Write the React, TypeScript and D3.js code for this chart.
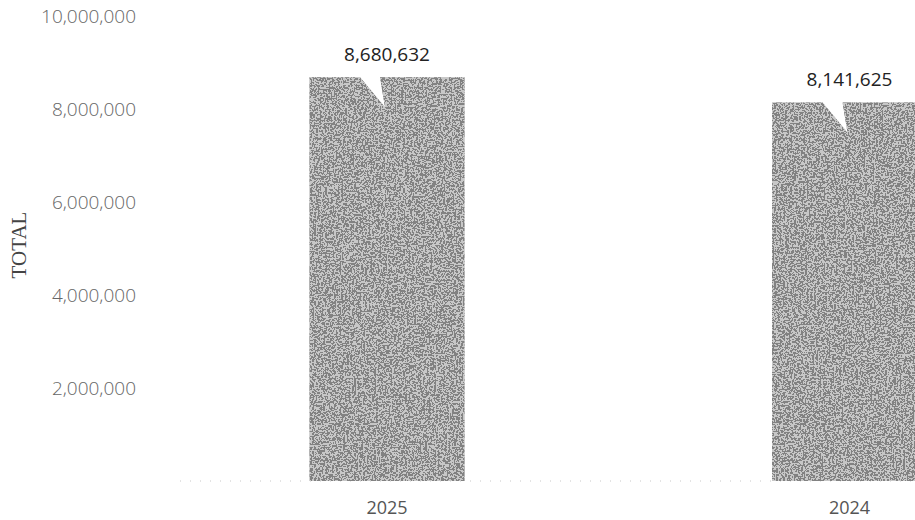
import React from "react";
import * as d3 from "d3";

const categories = ["2025", "2024"];
const totals = [8680632, 8141625];
const yTicks = [2000000, 4000000, 6000000, 8000000, 10000000];
const yAxisTitle = "TOTAL";

const W = 915;
const H = 520;

export default function App() {
  const y = d3.scaleLinear().domain([0, 10000000]).range([481, 16]);
  const x = d3
    .scaleBand<string>()
    .domain(categories)
    .range([155.75, 1080.75])
    .paddingInner(0.665)
    .paddingOuter(0.3325);
  const fmt = d3.format(",");
  const bw = x.bandwidth();

  return (
    <svg
      width={W}
      height={H}
      style={{ position: "absolute", left: 0, top: 0, background: "#fff" }}
    >
      <defs>
        <filter id="dither" x="0" y="0" width="100%" height="100%">
          <feTurbulence type="fractalNoise" baseFrequency="0.55" numOctaves="2" seed="3" result="noise" />
          <feColorMatrix in="noise" type="saturate" values="0" result="gray" />
          <feComponentTransfer in="gray" result="bw">
            <feFuncR type="discrete" tableValues="0.2 0.2 0.95 0.95" />
            <feFuncG type="discrete" tableValues="0.2 0.2 0.95 0.95" />
            <feFuncB type="discrete" tableValues="0.2 0.2 0.95 0.95" />
            <feFuncA type="linear" slope="0" intercept="1" />
          </feComponentTransfer>
          <feComposite in="bw" in2="SourceGraphic" operator="in" />
        </filter>
      </defs>

      <line
        x1={180}
        x2={W}
        y1={y(0)}
        y2={y(0)}
        stroke="#c8c8c8"
        strokeDasharray="1,9"
      />

      {yTicks.map((t) => (
        <text
          key={t}
          x={136}
          y={y(t)}
          dy="0.35em"
          textAnchor="end"
          fontFamily="'Open Sans', sans-serif"
          fontSize={19}
          fontWeight={300}
          fill="#666"
        >
          {fmt(t)}
        </text>
      ))}

      <text
        transform={`translate(26,245) rotate(-90)`}
        textAnchor="middle"
        fontFamily="'Liberation Serif', serif"
        fontSize={21}
        fill="#444"
      >
        {yAxisTitle}
      </text>

      {categories.map((c, i) => {
        const x0 = x(c) as number;
        const cx = x0 + bw / 2;
        const top = y(totals[i]);
        const base = y(0);
        const d = `M${x0},${base}V${top}H${cx - 27}L${cx - 2},${top + 30}L${cx - 7},${top}H${x0 + bw}V${base}Z`;
        return (
          <g key={c}>
            <path d={d} fill="#8a8a8a" />
            <path d={d} fill="#000" filter="url(#dither)" opacity={0.55} />
            <text
              x={cx}
              y={top - 16}
              textAnchor="middle"
              fontFamily="'Open Sans', sans-serif"
              fontSize={19}
              fill="#222"
            >
              {fmt(totals[i])}
            </text>
            <text
              x={cx}
              y={514}
              textAnchor="middle"
              fontFamily="'Open Sans', sans-serif"
              fontSize={18}
              fill="#555"
            >
              {c}
            </text>
          </g>
        );
      })}
    </svg>
  );
}
